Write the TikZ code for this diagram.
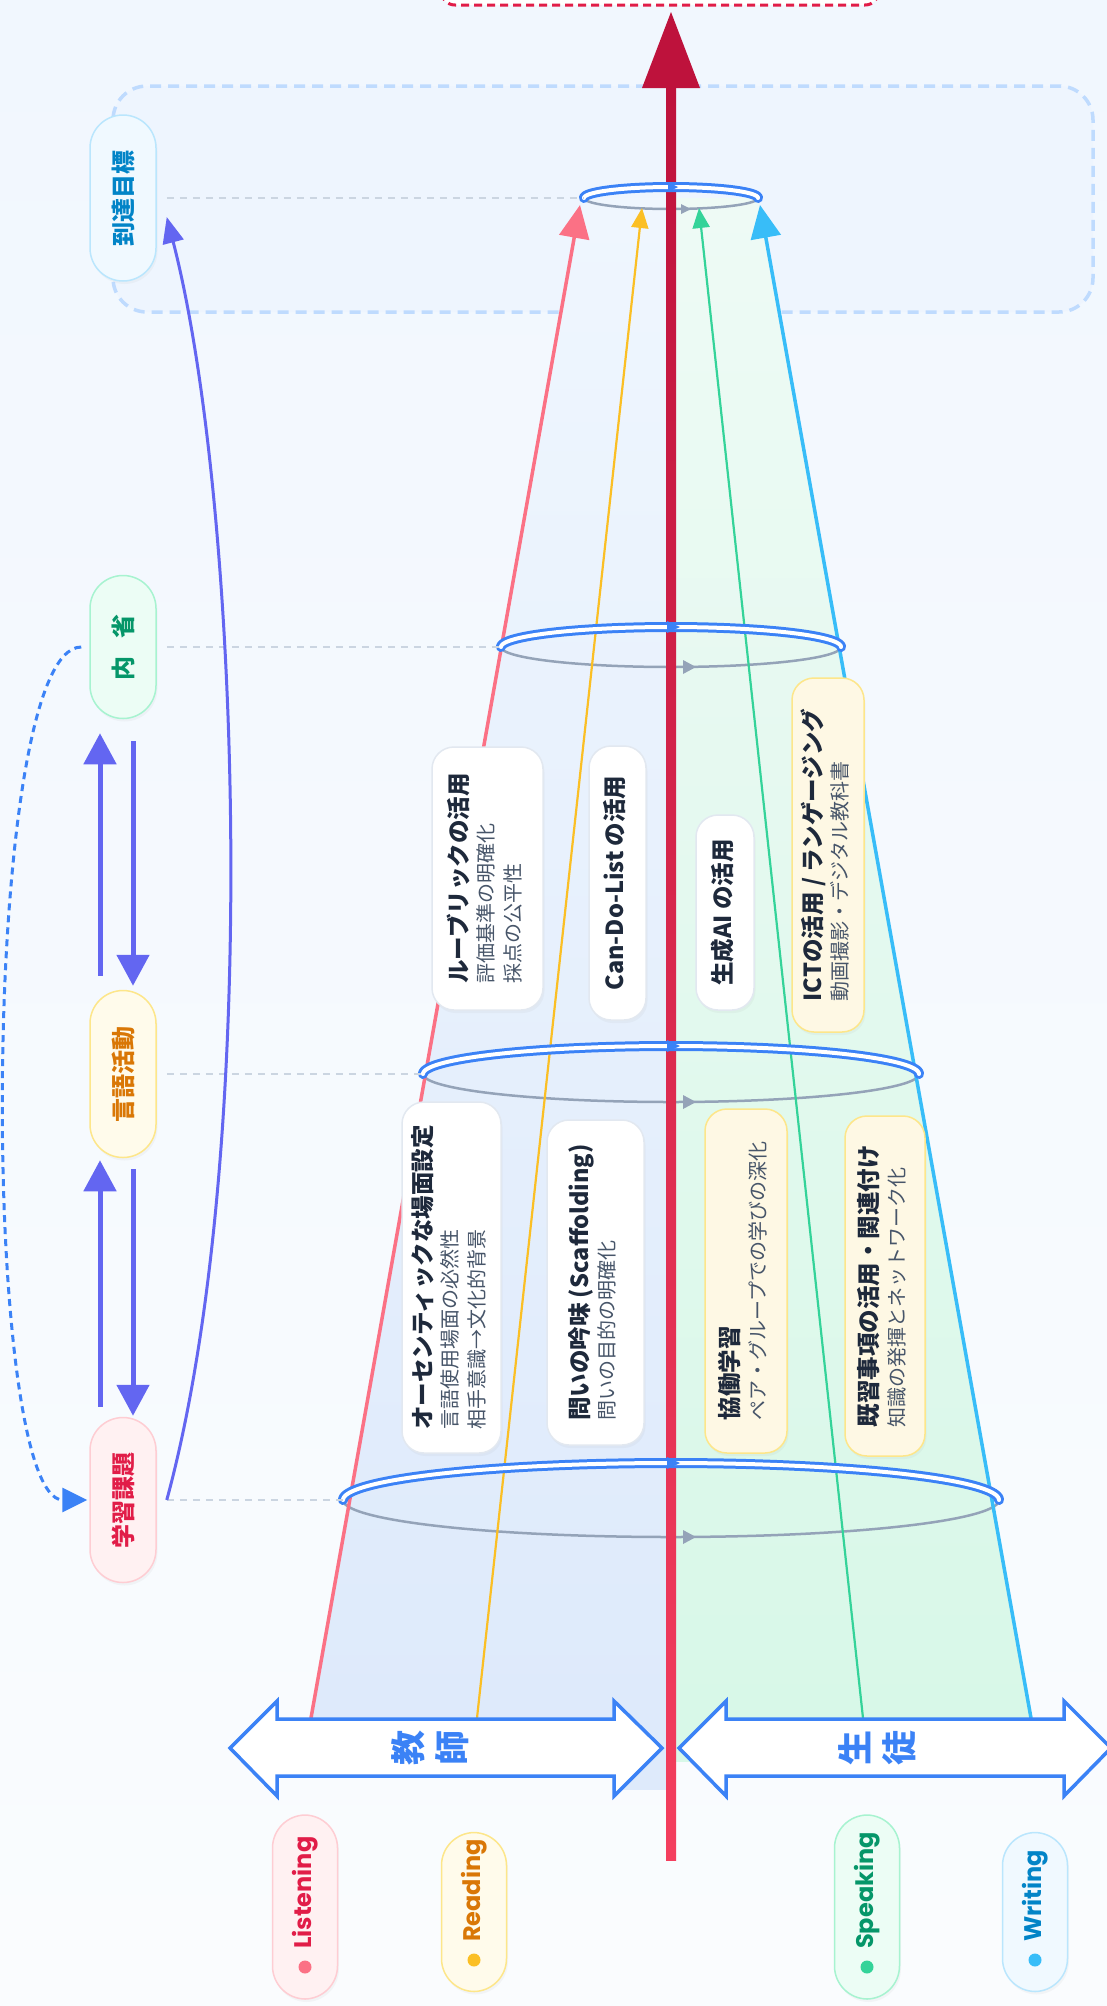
\documentclass[tikz,border=0pt]{standalone}
\usepackage{fontspec}
\usepackage{graphicx}
\setmainfont{Noto Sans CJK JP}
\newfontfamily\popfont{Poppins}
\usetikzlibrary{arrows.meta,calc,shadows}

\definecolor{bgtop}{HTML}{F1F7FE}
\definecolor{bgbot}{HTML}{FAFCFE}
\definecolor{zoneline}{HTML}{BFDBFE}
\definecolor{zonefill}{HTML}{EEF5FE}
\definecolor{redbox}{HTML}{E11D48}
\definecolor{axtop}{HTML}{BE123C}
\definecolor{axbot}{HTML}{F43F5E}
\definecolor{ringblue}{HTML}{3B82F6}
\definecolor{ringgrey}{HTML}{94A3B8}
\definecolor{dashgrey}{HTML}{CBD5E1}
\definecolor{conebt}{HTML}{EFF6FE}
\definecolor{conebb}{HTML}{DEEAFB}
\definecolor{conegt}{HTML}{EEFAF5}
\definecolor{conegb}{HTML}{D8F8E8}
\definecolor{lpink}{HTML}{FB7185}
\definecolor{lyellow}{HTML}{FBBF24}
\definecolor{lgreen}{HTML}{34D399}
\definecolor{lblue}{HTML}{38BDF8}
\definecolor{indig}{HTML}{6366F1}
\definecolor{titlecol}{HTML}{1E293B}
\definecolor{subcol}{HTML}{475569}
\definecolor{cardline}{HTML}{E2E8F0}
\definecolor{yfill}{HTML}{FEF8E4}
\definecolor{yline}{HTML}{FDE68A}
\definecolor{skyfill}{HTML}{F0F9FF}
\definecolor{skyline}{HTML}{BAE6FD}
\definecolor{skytext}{HTML}{0284C7}
\definecolor{grfill}{HTML}{ECFDF5}
\definecolor{grline}{HTML}{A7F3D0}
\definecolor{grtext}{HTML}{059669}
\definecolor{amfill}{HTML}{FFFBEB}
\definecolor{amline}{HTML}{FDE68A}
\definecolor{amtext}{HTML}{D97706}
\definecolor{rofill}{HTML}{FFF1F2}
\definecolor{roline}{HTML}{FECDD3}
\definecolor{rotext}{HTML}{E11D48}

\newcommand\cardtxt[1]{\rotatebox{90}{\fontsize{20}{26.5}\selectfont\begin{tabular}{@{}l@{}}#1\end{tabular}}}
\newcommand\ttl[1]{{\fontsize{23.5}{27}\selectfont\bfseries\color{titlecol}#1}}
\newcommand\subl[1]{{\fontsize{20}{26.5}\selectfont\color{subcol}#1}}
\newcommand\pilltxt[2]{\rotatebox{90}{\fontsize{24}{27}\selectfont\bfseries\color{#1}#2}}
\newcommand\skilltxt[2]{\rotatebox{90}{\popfont\fontsize{24}{27}\selectfont\bfseries\color{#1}#2}}

\begin{document}
\begin{tikzpicture}[x=1pt,y=-1pt,
  softshadow/.style={drop shadow={opacity=0.06, shadow xshift=1.5pt, shadow yshift=-3pt}},
  pill/.style={rounded corners=33pt, minimum width=66pt, inner sep=0pt, line width=1.5pt, softshadow},
  card/.style={rounded corners=22pt, inner sep=0pt, line width=1.5pt, softshadow},
  wcard/.style={card, draw=cardline, fill=white},
  ycard/.style={card, draw=yline, fill=yfill},
  gdash/.style={draw=dashgrey, line width=2.5pt, dash pattern=on 7pt off 6pt},
  ring/.style={draw=ringblue, line width=3pt, double=white, double distance=4pt, line cap=round},
  gring/.style={draw=ringgrey, line width=2.5pt},
  dblarrow/.style={draw=ringblue, fill=white, line width=3.5pt, line join=miter},
  indarrow/.style={draw=indig, line width=5pt, -{Triangle[length=31pt,width=32pt]}},
  skillbig/.style={line width=3.5pt, -{Triangle[length=33pt,width=30pt]}},
  skillsmall/.style={line width=2.2pt, -{Triangle[length=20pt,width=17pt]}}
]
\useasboundingbox (0,0) rectangle (1107,2006);
\shade[top color=bgtop, bottom color=bgbot] (0,0) rectangle (1107,2006);

% goal zone and top box
\draw[draw=zoneline, line width=3.5pt, dash pattern=on 11pt off 7pt, fill=zonefill, rounded corners=34pt] (113,86) rectangle (1093,312);
\draw[draw=redbox, line width=3pt, dash pattern=on 8pt off 5pt, fill=white, rounded corners=14pt] (441,-60) rectangle (879,5);

% cone fills
\shade[top color=conebt, bottom color=conebb] (311,1718) -- (671,1718) -- (671,198) -- (584,198) -- cycle;
\shade[top color=conegt, bottom color=conegb] (671,1718) -- (1031,1718) -- (758,198) -- (671,198) -- cycle;
\fill[conebb] (612,1716) rectangle (671,1790);
\fill[conegb] (671,1716) rectangle (729,1762);

% ellipse end coordinates
\coordinate (e1l) at (584,198);
\coordinate (e2l) at (501,647);
\coordinate (e3l) at (423,1074);
\coordinate (e4l) at (343,1500);

% grey front arcs
\draw[gring] plot[domain=0:180, samples=90, smooth] ({671+87*cos(\x)}, {198+11*sin(\x)});
\draw[gring] plot[domain=0:180, samples=90, smooth] ({671+170*cos(\x)}, {647+20*sin(\x)});
\draw[gring] plot[domain=0:180, samples=90, smooth] ({671+248*cos(\x)}, {1074+28*sin(\x)});
\draw[gring] plot[domain=0:180, samples=90, smooth] ({671+328*cos(\x)}, {1500+37*sin(\x)});
\fill[ringgrey] (691,209) -- (681,204) -- (681,214) -- cycle;
\fill[ringgrey] (696,667) -- (683,660) -- (683,674) -- cycle;
\fill[ringgrey] (696,1102) -- (683,1095) -- (683,1109) -- cycle;
\fill[ringgrey] (696,1537) -- (683,1530) -- (683,1544) -- cycle;

% skill lines
\coordinate (pinkB) at (311,1718);  \coordinate (pinkT) at (580,205);
\coordinate (yelB) at (477,1718);   \coordinate (yelT) at (642,208);
\coordinate (grnB) at (863,1718);   \coordinate (grnT) at (699,208);
\coordinate (bluB) at (1031,1718);  \coordinate (bluT) at (760,205);
\draw[skillbig, draw=lpink, fill=lpink] (pinkB) -- (pinkT);
\draw[skillsmall, draw=lyellow, fill=lyellow] (yelB) -- (yelT);
\draw[skillsmall, draw=lgreen, fill=lgreen] (grnB) -- (grnT);
\draw[skillbig, draw=lblue, fill=lblue] (bluB) -- (bluT);

% red axis
\shade[top color=axtop, bottom color=axbot] (666,86) rectangle (676,1860);
\fill[axtop] (671,12) -- (642,88) -- (700,88) -- cycle;

% blue back rings
\draw[ring] plot[domain=180:360, samples=90, smooth] ({671+87*cos(\x)}, {198+11*sin(\x)});
\draw[ring] plot[domain=180:360, samples=90, smooth] ({671+170*cos(\x)}, {647+20*sin(\x)});
\draw[ring] plot[domain=180:360, samples=90, smooth] ({671+248*cos(\x)}, {1074+28*sin(\x)});
\draw[ring] plot[domain=180:360, samples=90, smooth] ({671+328*cos(\x)}, {1500+37*sin(\x)});
\fill[ringblue] (678,187) -- (668,182) -- (668,192) -- cycle;
\fill[ringblue] (680,627) -- (667,621) -- (667,633) -- cycle;
\fill[ringblue] (680,1046) -- (667,1040) -- (667,1052) -- cycle;
\fill[ringblue] (680,1463) -- (667,1457) -- (667,1469) -- cycle;

% left pills
\node[pill, draw=skyline, fill=skyfill, minimum height=166pt] (goalpill) at (123,198) {\pilltxt{skytext}{到達目標}};
\node[pill, draw=grline, fill=grfill, minimum height=143pt] (naisei) at (123,647) {\pilltxt{grtext}{内\hspace{18pt}省}};
\node[pill, draw=amline, fill=amfill, minimum height=167pt] (gengo) at (123,1074) {\pilltxt{amtext}{言語活動}};
\node[pill, draw=roline, fill=rofill, minimum height=165pt] (kadai) at (123,1500) {\pilltxt{rotext}{学習課題}};

% dashed connectors to rings
\draw[gdash, shorten <=10pt] (goalpill.east) -- (e1l);
\draw[gdash, shorten <=10pt] (naisei.east) -- (e2l);
\draw[gdash, shorten <=10pt] (gengo.east) -- (e3l);
\draw[gdash, shorten <=10pt] (kadai.east) -- (e4l);

% cards
\node[wcard, minimum width=111pt, minimum height=263pt] (rubric) at (487.5,878.5)
  {\cardtxt{\ttl{ルーブリックの活用}\\ \subl{評価基準の明確化}\\ \subl{採点の公平性}}};
\node[wcard, minimum width=57pt, minimum height=274pt] (cando) at (617.5,883)
  {\cardtxt{\ttl{Can-Do-List の活用}}};
\node[wcard, minimum width=58pt, minimum height=195pt] (genai) at (725,912.5)
  {\cardtxt{\ttl{生成AI の活用}}};
\node[ycard, minimum width=72pt, minimum height=354pt] (ict) at (828,855)
  {\cardtxt{\ttl{ICTの活用 / ランゲージング}\\ \subl{動画撮影・デジタル教科書}}};
\node[wcard, minimum width=99pt, minimum height=351pt] (auth) at (451.5,1277.5)
  {\cardtxt{\ttl{オーセンティックな場面設定}\\ \subl{言語使用場面の必然性}\\ \subl{相手意識→文化的背景}}};
\node[wcard, minimum width=97pt, minimum height=325pt] (toi) at (595.5,1282.5)
  {\cardtxt{\ttl{問いの吟味 (Scaffolding)}\\ \subl{問いの目的の明確化}}};
\node[ycard, minimum width=82pt, minimum height=344pt] (kyodo) at (746,1281)
  {\cardtxt{\ttl{協働学習}\\ \subl{ペア・グループでの学びの深化}}};
\node[ycard, minimum width=80pt, minimum height=340pt] (kishu) at (885,1286)
  {\cardtxt{\ttl{既習事項の活用・関連付け}\\ \subl{知識の発揮とネットワーク化}}};

% teacher / student double arrows
\draw[dblarrow] (230,1748) -- (277,1701) -- (277,1719) -- (614,1719) -- (614,1701) -- (662,1748) -- (614,1796) -- (614,1776) -- (277,1776) -- (277,1796) -- cycle;
\draw[dblarrow] (679,1748) -- (726,1701) -- (726,1719) -- (1064,1719) -- (1064,1701) -- (1111,1748) -- (1064,1796) -- (1064,1776) -- (726,1776) -- (726,1796) -- cycle;
\node (teacher) at (435,1748) {\rotatebox{90}{\fontsize{35}{44}\selectfont\bfseries\color{ringblue}\begin{tabular}{@{}c@{}}教\\師\end{tabular}}};
\node (student) at (882,1748) {\rotatebox{90}{\fontsize{35}{44}\selectfont\bfseries\color{ringblue}\begin{tabular}{@{}c@{}}生\\徒\end{tabular}}};

% skill pills
\node[pill, draw=roline, fill=rofill, minimum width=65pt, minimum height=184pt] (listening) at (305,1907) {};
\node[pill, draw=amline, fill=amfill, minimum width=65pt, minimum height=159pt] (reading) at (474,1912) {};
\node[pill, draw=grline, fill=grfill, minimum width=65pt, minimum height=184pt] (speaking) at (867,1907) {};
\node[pill, draw=skyline, fill=skyfill, minimum width=65pt, minimum height=159pt] (writing) at (1035,1912) {};
\fill[lpink] (305,1967) circle (6.5pt);
\fill[lyellow] (474,1960) circle (6.5pt);
\fill[lgreen] (867,1967) circle (6.5pt);
\fill[lblue] (1035,1960) circle (6.5pt);
\node[anchor=south, inner sep=0pt] (listeningtxt) at (305,1949) {\skilltxt{rotext}{Listening}};
\node[anchor=south, inner sep=0pt] (readingtxt) at (474,1942) {\skilltxt{amtext}{Reading}};
\node[anchor=south, inner sep=0pt] (speakingtxt) at (867,1949) {\skilltxt{grtext}{Speaking}};
\node[anchor=south, inner sep=0pt] (writingtxt) at (1035,1942) {\skilltxt{skytext}{Writing}};

% cycle arrows between left pills
\draw[indarrow, shorten <=14pt, shorten >=14pt] ([xshift=-23pt]gengo.north) -- ([xshift=-23pt]naisei.south);
\draw[indarrow, shorten <=22pt, shorten >=4pt] ([xshift=10pt]naisei.south) -- ([xshift=10pt]gengo.north);
\draw[indarrow, shorten <=10pt, shorten >=2pt] ([xshift=-23pt]kadai.north) -- ([xshift=-23pt]gengo.south);
\draw[indarrow, shorten <=11pt, shorten >=1pt] ([xshift=10pt]gengo.south) -- ([xshift=10pt]kadai.north);

% reflection loop back to task
\draw[draw=ringblue, line width=3pt, dash pattern=on 7pt off 5pt, -{Triangle[length=25pt,width=24pt]}, shorten <=8pt, shorten >=2pt]
  (naisei.west) .. controls +(-110,0) and +(-110,0) .. (kadai.west);

% task to goal
\draw[draw=indig, line width=3pt, -{Triangle[length=26pt,width=21pt]}]
  ($(kadai.east)+(10,0)$) .. controls (262,1150) and (240,500) .. ($(goalpill.east)+(10,19)$);
\end{tikzpicture}
\end{document}
